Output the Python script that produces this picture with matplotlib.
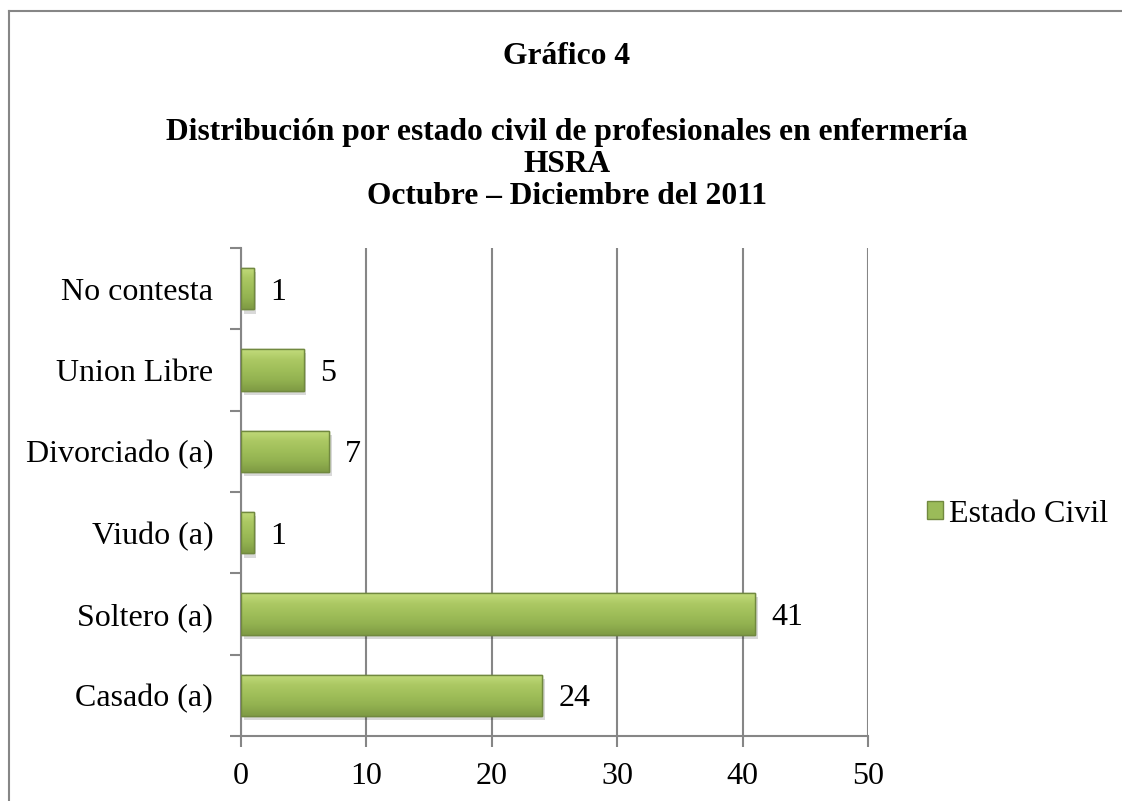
import numpy as np
import matplotlib
matplotlib.use("Agg")
import matplotlib.pyplot as plt
from matplotlib.lines import Line2D
from matplotlib.patches import Patch
import matplotlib.patheffects as pe

categories = ["Casado (a)", "Soltero (a)", "Viudo (a)", "Divorciado (a)", "Union Libre", "No contesta"]
values = [24, 41, 1, 7, 5, 1]
x_ticks = [0, 10, 20, 30, 40, 50]
series_name = "Estado Civil"
title_lines = ["Gráfico 4",
               "Distribución por estado civil de profesionales en enfermería",
               "HSRA",
               "Octubre – Diciembre del 2011"]

plt.rcParams['font.family'] = ['Liberation Serif', 'DejaVu Serif']

W, H = 1122, 801
fig = plt.figure(figsize=(W / 100, H / 100), dpi=100)

# axes box in pixel terms
left, right, top, bottom = 241, 868, 248, 736
ax = fig.add_axes([left / W, 1 - bottom / H, (right - left) / W, (bottom - top) / H])

grey = "#868686"
green = "#9bbb59"
edge = "#71893f"

y = np.arange(len(categories))
bars = ax.barh(y, values, height=0.51, color=green, edgecolor=edge, linewidth=1.0, zorder=3)
for b in bars:
    b.set_path_effects([pe.SimplePatchShadow(offset=(2, -3), shadow_rgbFace="#000000", alpha=0.15),
                        pe.Normal()])

# vertical gradient on each bar (light top, darker bottom)
grad = np.linspace(0, 1, 64).reshape(-1, 1)
cmap = matplotlib.colors.LinearSegmentedColormap.from_list(
    "g", ["#c2dc7c", "#acc863", "#9fbe59", "#92b150", "#7f9b44"])
for b in bars:
    x0, y0 = b.get_x(), b.get_y()
    w, h = b.get_width(), b.get_height()
    im = ax.imshow(grad, cmap=cmap, aspect="auto", extent=[x0, x0 + w, y0, y0 + h],
                   origin="upper", zorder=3.5)
    im.set_clip_path(b)
    ax.add_patch(plt.Rectangle((x0, y0), w, h, fill=False, edgecolor=edge, linewidth=1.0, zorder=4))

for yi, v in zip(y, values):
    ax.text(v + 1.3, yi, str(v), va="center_baseline", ha="left", fontsize=23, color="black", zorder=5)

ax.set_xlim(0, 50)
ax.set_ylim(-0.5, len(categories) - 0.5)
ax.set_xticks(x_ticks)
ax.set_xticklabels([str(t) for t in x_ticks], fontsize=23)
ax.set_yticks(y)
ax.set_yticklabels(categories, fontsize=23)
ax.set_yticks(np.arange(len(categories) + 1) - 0.5, minor=True)
ax.tick_params(axis="y", which="major", length=0, pad=20)
ax.tick_params(axis="y", which="minor", length=8, width=1.5, color=grey, direction="out")
ax.tick_params(axis="x", length=8, width=1.5, color=grey, direction="out", pad=11)
ax.xaxis.grid(True, color=grey, linewidth=1.5, zorder=0)
ax.set_axisbelow(True)
for s in ["top", "right"]:
    ax.spines[s].set_visible(False)
for s in ["left", "bottom"]:
    ax.spines[s].set_color(grey)
    ax.spines[s].set_linewidth(1.5)

# titles, placed by baseline in pixels
cx = 567 / W
for line, base in zip(title_lines, [64, 140, 172, 204]):
    fig.text(cx, 1 - base / H, line, ha="center", va="baseline", fontsize=22.7, fontweight="bold")

# legend
handle = Patch(facecolor=green, edgecolor=edge, linewidth=1.0)
fig.legend([handle], [series_name], loc="center left", bbox_to_anchor=(927 / W, 1 - 514 / H),
           frameon=False, fontsize=23, handlelength=0.5, handleheight=0.5, handletextpad=0.2,
           borderpad=0, borderaxespad=0)

# outer chart frame (top and left edges visible in the crop)
fig.add_artist(Line2D([8.5 / W, 1], [1 - 11 / H, 1 - 11 / H], transform=fig.transFigure,
                      color=grey, linewidth=1.5))
fig.add_artist(Line2D([8.5 / W, 8.5 / W], [0, 1 - 11 / H], transform=fig.transFigure,
                      color=grey, linewidth=1.5))

fig.savefig("out.png", dpi=100)
